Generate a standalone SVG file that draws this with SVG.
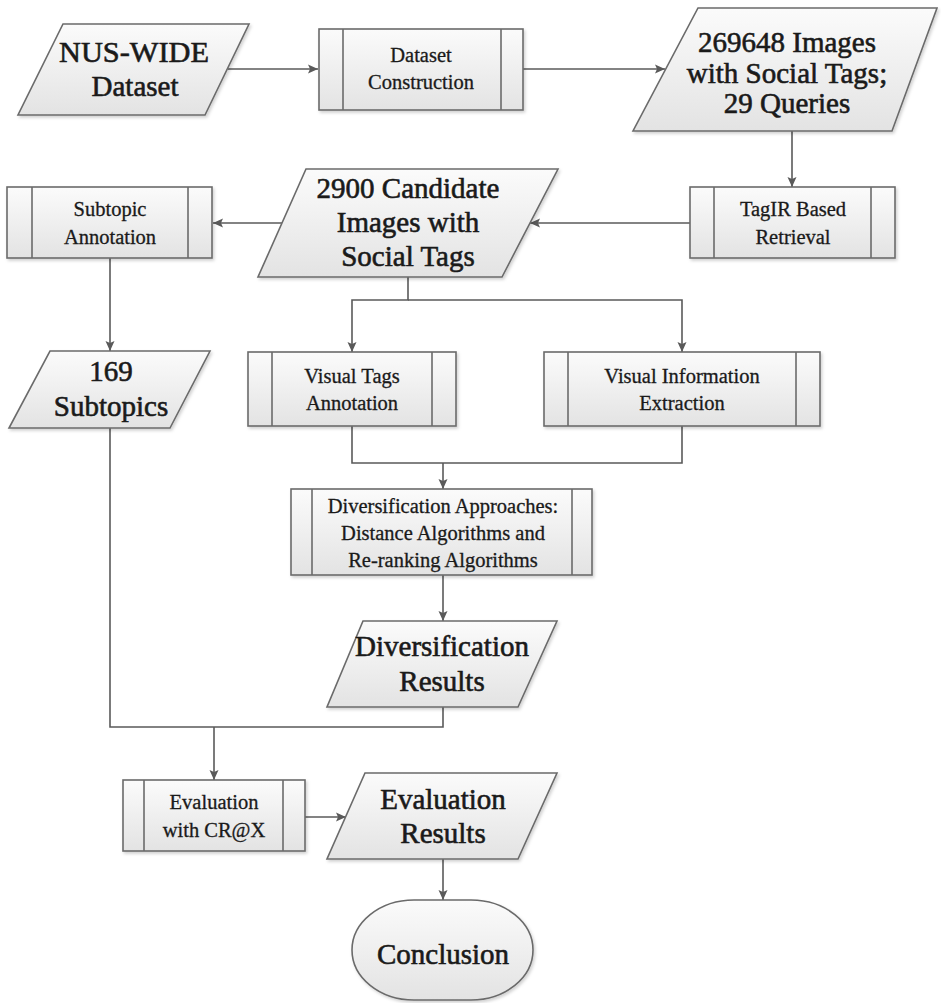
<svg xmlns="http://www.w3.org/2000/svg" width="941" height="1003" viewBox="0 0 941 1003">
<style>
.shape{fill:url(#g);stroke:#6b6b6b;stroke-width:1.6;filter:url(#sh)}
.bar{stroke:#6b6b6b;stroke-width:1.6;fill:none}
.t{font-family:"Liberation Serif","Times New Roman",serif;fill:#1a1a1a;stroke:#1a1a1a;stroke-width:0.3;text-anchor:middle}
.big{font-size:29px;stroke-width:0.6}
.sm{font-size:20.5px}
.c{fill:none;stroke:#5a5a5a;stroke-width:1.6}
.a{marker-end:url(#ah)}
</style>
<defs>
<linearGradient id="g" x1="0" y1="0" x2="0" y2="1">
<stop offset="0" stop-color="#fbfbfb"/>
<stop offset="1" stop-color="#e3e3e3"/>
</linearGradient>
<filter id="sh" x="-10%" y="-10%" width="125%" height="130%">
<feDropShadow dx="1.5" dy="2" stdDeviation="1.5" flood-color="#000" flood-opacity="0.18"/>
</filter>
<marker id="ah" markerUnits="userSpaceOnUse" markerWidth="11" markerHeight="10" refX="10" refY="5" orient="auto">
<path d="M0,0.5 L10,5 L0,9.5 L2,5 z" fill="#5a5a5a"/>
</marker>
</defs>
<rect width="941" height="1003" fill="#fff"/>

<g id="connectors">
<path class="c a" d="M228,69 H318"/>
<path class="c a" d="M523,69 H665"/>
<path class="c a" d="M792,131 V187"/>
<path class="c a" d="M690,223 H530"/>
<path class="c a" d="M283,223 H213"/>
<path class="c a" d="M110,258 V351"/>
<path class="c a" d="M408,277 V300 H352 V352"/>
<path class="c a" d="M408,300 H682 V352"/>
<path class="c" d="M352,426 V463 H682 V426"/>
<path class="c a" d="M443,463 V489"/>
<path class="c a" d="M443,575 V621"/>
<path class="c" d="M110,428 V727 H443 V707"/>
<path class="c a" d="M214,727 V780"/>
<path class="c a" d="M305,817 H346"/>
<path class="c a" d="M443,859 V900"/>
</g>

<g id="nus-wide">
<polygon class="shape" points="63,24 249,24 205,115 18,115"/>
<text class="t big" x="134" y="62" textLength="150" lengthAdjust="spacingAndGlyphs">NUS-WIDE</text>
<text class="t big" x="135" y="96">Dataset</text>
</g>

<g id="dataset-construction">
<rect class="shape" x="319" y="29" width="204" height="81"/>
<path class="bar" d="M343,29 V110 M501,29 V110"/>
<text class="t sm" x="421" y="62">Dataset</text>
<text class="t sm" x="421" y="89">Construction</text>
</g>

<g id="images-269648">
<polygon class="shape" points="698,8 937,8 892,131 633,131"/>
<text class="t big" x="787" y="52">269648 Images</text>
<text class="t big" x="787" y="83">with Social Tags;</text>
<text class="t big" x="787" y="113">29 Queries</text>
</g>

<g id="tagir">
<rect class="shape" x="690" y="187" width="205" height="71"/>
<path class="bar" d="M714,187 V258 M871,187 V258"/>
<text class="t sm" x="793" y="216">TagIR Based</text>
<text class="t sm" x="793" y="244">Retrieval</text>
</g>

<g id="candidates-2900">
<polygon class="shape" points="306,169 558,169 502,277 258,277"/>
<text class="t big" x="408" y="198">2900 Candidate</text>
<text class="t big" x="408" y="232">Images with</text>
<text class="t big" x="408" y="266">Social Tags</text>
</g>

<g id="subtopic-annotation">
<rect class="shape" x="7" y="187" width="205" height="71"/>
<path class="bar" d="M32,187 V258 M188,187 V258"/>
<text class="t sm" x="110" y="216">Subtopic</text>
<text class="t sm" x="110" y="244">Annotation</text>
</g>

<g id="subtopics-169">
<polygon class="shape" points="50,351 210,351 170,428 9,428"/>
<text class="t big" x="111" y="381">169</text>
<text class="t big" x="111" y="416">Subtopics</text>
</g>

<g id="visual-tags">
<rect class="shape" x="248" y="352" width="208" height="74"/>
<path class="bar" d="M272,352 V426 M432,352 V426"/>
<text class="t sm" x="352" y="383">Visual Tags</text>
<text class="t sm" x="352" y="410">Annotation</text>
</g>

<g id="visual-info">
<rect class="shape" x="544" y="352" width="276" height="74"/>
<path class="bar" d="M568,352 V426 M796,352 V426"/>
<text class="t sm" x="682" y="383">Visual Information</text>
<text class="t sm" x="682" y="410">Extraction</text>
</g>

<g id="div-approaches">
<rect class="shape" x="291" y="489" width="301" height="86"/>
<path class="bar" d="M312,489 V575 M572,489 V575"/>
<text class="t sm" x="443" y="513">Diversification Approaches:</text>
<text class="t sm" x="443" y="540">Distance Algorithms and</text>
<text class="t sm" x="443" y="567">Re-ranking Algorithms</text>
</g>

<g id="div-results">
<polygon class="shape" points="363,621 557,621 518,707 327,707"/>
<text class="t big" x="442" y="656">Diversification</text>
<text class="t big" x="442" y="691">Results</text>
</g>

<g id="evaluation">
<rect class="shape" x="123" y="780" width="182" height="71"/>
<path class="bar" d="M144,780 V851 M283,780 V851"/>
<text class="t sm" x="214" y="809">Evaluation</text>
<text class="t sm" x="214" y="837">with CR@X</text>
</g>

<g id="eval-results">
<polygon class="shape" points="365,773 557,773 518,859 327,859"/>
<text class="t big" x="443" y="809">Evaluation</text>
<text class="t big" x="443" y="843">Results</text>
</g>

<g id="conclusion">
<rect class="shape" x="352" y="900" width="181" height="100" rx="62" ry="55"/>
<text class="t big" x="443" y="964">Conclusion</text>
</g>
</svg>
